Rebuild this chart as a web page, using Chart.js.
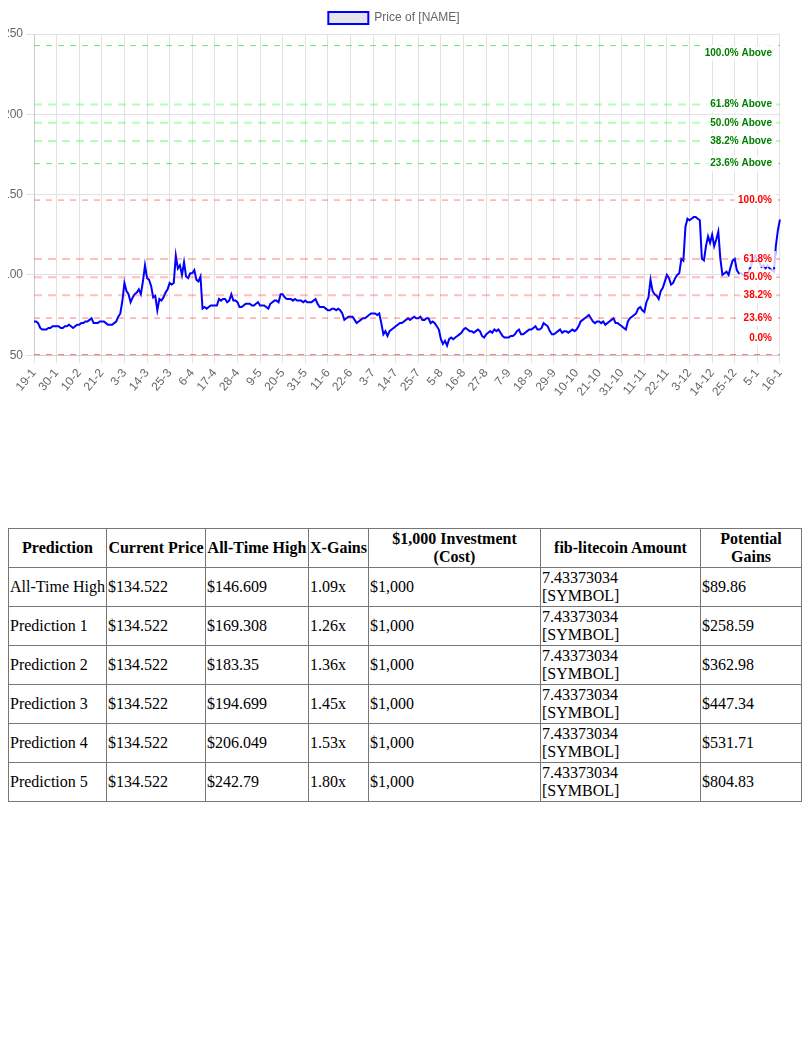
<!DOCTYPE html>
<html>
<head>
<meta charset="utf-8">
<script src="https://cdn.jsdelivr.net/npm/chart.js@4"></script>
<style>
body { margin: 8px; font-family: "Liberation Serif", "Times New Roman", serif; }
#wrap { position: relative; width: 794px; height: 400px; margin-left: -8px; margin-top: -6px; }
table { border-collapse: collapse; margin-top: 126px; width: 794px; font-size: 16px; }
th, td { border: 1px solid #777; padding: 1px 1px; height: 36px; }
th { font-weight: bold; text-align: center; }
td { text-align: left; }
</style>
</head>
<body>
<div id="wrap"><canvas id="priceChart"></canvas></div>
<table>
<tr><th style="width:95px">Prediction</th><th style="width:96px">Current Price</th><th style="width:100px">All-Time High</th><th style="width:57px">X-Gains</th><th style="width:169px">$1,000 Investment (Cost)</th><th style="width:157px">fib-litecoin Amount</th><th>Potential Gains</th></tr>
<tr><td>All-Time High</td><td>$134.522</td><td>$146.609</td><td>1.09x</td><td>$1,000</td><td>7.43373034 [SYMBOL]</td><td>$89.86</td></tr>
<tr><td>Prediction 1</td><td>$134.522</td><td>$169.308</td><td>1.26x</td><td>$1,000</td><td>7.43373034 [SYMBOL]</td><td>$258.59</td></tr>
<tr><td>Prediction 2</td><td>$134.522</td><td>$183.35</td><td>1.36x</td><td>$1,000</td><td>7.43373034 [SYMBOL]</td><td>$362.98</td></tr>
<tr><td>Prediction 3</td><td>$134.522</td><td>$194.699</td><td>1.45x</td><td>$1,000</td><td>7.43373034 [SYMBOL]</td><td>$447.34</td></tr>
<tr><td>Prediction 4</td><td>$134.522</td><td>$206.049</td><td>1.53x</td><td>$1,000</td><td>7.43373034 [SYMBOL]</td><td>$531.71</td></tr>
<tr><td>Prediction 5</td><td>$134.522</td><td>$242.79</td><td>1.80x</td><td>$1,000</td><td>7.43373034 [SYMBOL]</td><td>$804.83</td></tr>
</table>
<script>
// tick labels shown every 11 days
const tickLabels = ['19-1','30-1','10-2','21-2','3-3','14-3','25-3','6-4','17-4','28-4','9-5','20-5','31-5','11-6','22-6','3-7','14-7','25-7','5-8','16-8','27-8','7-9','18-9','29-9','10-10','21-10','31-10','11-11','22-11','3-12','14-12','25-12','5-1','16-1'];

// daily prices
const prices = [
  71,71,70,67,66,66,66,67,67,68,68,
  68,68,67,67,68,68,69,68,67,68,69,
  69,70,70,71,71,72,73,70,70,70,71,
  71,71,70,69,69,69,70,71,74,76,84,
  95,90,88,83,86,88,89,91,88,96,106,
  98,97,93,86,87,78,85,84,86,89,91,
  95,94,95,112,104,106,100,108,99,98,101,
  101,103,97,96,99,79,80,79,80,81,81,
  81,81,85,84,85,85,83,84,88,84,84,
  83,80,80,81,82,82,82,81,81,82,83,
  81,81,81,80,79,82,83,84,84,83,88,
  88,86,85,85,85,84,85,84,84,84,83,
  84,83,83,83,84,85,82,80,80,80,79,
  78,78,79,79,78,79,78,76,72,73,74,
  74,74,72,70,71,72,73,73,74,75,76,
  76,76,75,76,70,63,65,62,65,66,67,
  68,69,70,70,71,72,73,72,73,74,73,
  73,74,72,72,73,73,70,71,70,68,66,
  60,57,59,56,60,61,60,61,62,63,64,
  66,67,66,65,65,64,65,66,65,62,61,
  63,64,65,64,66,65,66,64,62,61,61,
  61,62,62,63,65,66,63,63,64,65,66,
  66,67,68,66,66,67,70,69,68,65,63,
  63,64,65,66,64,65,65,64,65,66,65,
  66,68,71,72,73,74,75,73,71,70,71,
  71,70,71,69,70,71,72,73,70,70,69,
  68,67,66,71,73,74,75,76,79,80,78,
  77,83,86,97,90,88,87,85,90,92,96,
  100,98,94,95,98,100,101,110,109,130,135,
  134,135,136,136,135,134,110,109,118,124,120,
  125,118,122,127,110,100,101,102,100,105,109,
  110,103,101,101,100,99,100,103,106,110,112,
  109,108,105,106,104,106,104,103,102,118,128,
  134.522
];
const dayLabels = prices.map((p, i) => i % 11 === 0 ? tickLabels[i / 11] : '');

// fibonacci levels
const fibNames = ['0.0%','23.6%','38.2%','50.0%','61.8%','100.0%','23.6% Above','38.2% Above','50.0% Above','61.8% Above','100.0% Above'];
const fibValues = [50.43, 73.13, 87.35, 98.52, 109.87, 146.609, 169.308, 183.35, 194.699, 206.049, 242.79];

const fibPlugin = {
  id: 'fibLines',
  afterDatasetsDraw(chart) {
    const { ctx, chartArea, scales } = chart;
    ctx.save();
    fibValues.forEach((v, i) => {
      const y = scales.y.getPixelForValue(v);
      const above = i > 5;
      const heavy = [2, 3, 4, 7, 8, 9].includes(i);
      ctx.beginPath();
      ctx.lineWidth = heavy ? 2 : 1;
      ctx.setLineDash(heavy ? [8, 6] : [6, 6]);
      ctx.strokeStyle = above ? (heavy ? 'rgba(0,255,0,0.3)' : 'rgba(0,200,0,0.55)')
                              : (heavy ? 'rgba(255,0,0,0.25)' : 'rgba(255,0,0,0.5)');
      ctx.moveTo(chartArea.left, y);
      ctx.lineTo(chartArea.right, y);
      ctx.stroke();
    });
    ctx.setLineDash([]);
    ctx.font = 'bold 10px Arial, "Liberation Sans", sans-serif';
    ctx.textAlign = 'right';
    ctx.textBaseline = 'middle';
    fibValues.forEach((v, i) => {
      let y = scales.y.getPixelForValue(v);
      y = Math.min(Math.max(y, chartArea.top + 19), chartArea.bottom - 17);
      const x = chartArea.right - 8;
      const w = ctx.measureText(fibNames[i]).width + 8;
      ctx.fillStyle = 'rgba(255,255,255,0.8)';
      ctx.fillRect(x - w + 4, y - 8, w, 16);
      ctx.fillStyle = i > 5 ? 'green' : 'red';
      ctx.fillText(fibNames[i], x, y);
    });
    ctx.restore();
  }
};

new Chart(document.getElementById('priceChart'), {
  type: 'line',
  data: {
    labels: dayLabels,
    datasets: [{
      label: 'Price of [NAME]',
      data: prices,
      borderColor: '#0000ff',
      backgroundColor: '#e6e6ea',
      borderWidth: 2,
      pointRadius: 0,
      tension: 0,
      fill: false
    }]
  },
  options: {
    responsive: true,
    maintainAspectRatio: false,
    animation: false,
    layout: { padding: { right: 6 } },
    plugins: {
      legend: { labels: { color: '#666', boxWidth: 40, font: { size: 12 } } },
      tooltip: { enabled: false }
    },
    scales: {
      x: {
        ticks: {
          autoSkip: false, maxRotation: 50, minRotation: 50, color: '#666',
          callback: (val, i) => i % 11 === 0 ? tickLabels[i / 11] : null
        },
        grid: { color: '#e2e2e2' }
      },
      y: {
        min: 50, max: 250,
        ticks: { stepSize: 50, color: '#666' },
        grid: { color: '#e2e2e2' }
      }
    }
  },
  plugins: [fibPlugin]
});
</script>
</body>
</html>
